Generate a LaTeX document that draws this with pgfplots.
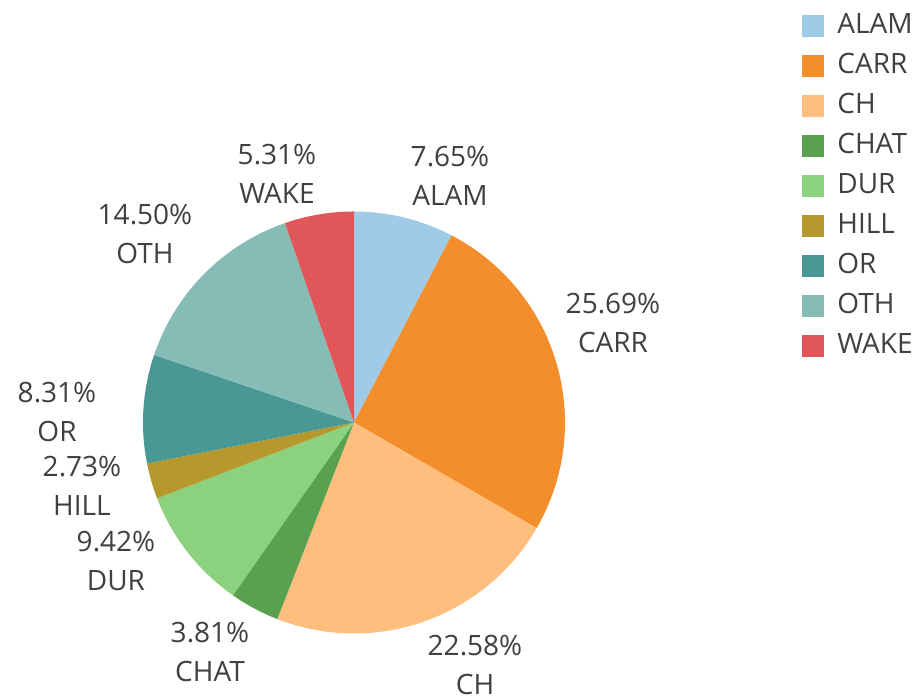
\documentclass[border=0pt]{standalone}
\usepackage{pgfplots}
\pgfplotsset{compat=1.18}
\usepackage{fontspec}
\setmainfont{Open Sans}
\definecolor{cALAM}{HTML}{A0CBE8}
\definecolor{cCARR}{HTML}{F28E2B}
\definecolor{cCH}{HTML}{FFBE7D}
\definecolor{cCHAT}{HTML}{59A14F}
\definecolor{cDUR}{HTML}{8CD17D}
\definecolor{cHILL}{HTML}{B6992D}
\definecolor{cOR}{HTML}{499894}
\definecolor{cOTH}{HTML}{86BCB6}
\definecolor{cWAKE}{HTML}{E15759}
\definecolor{txt}{HTML}{404040}
% #1 = cumulative share before this slice (%), #2 = share (%), #3 = colour, #4 = name
\newcommand{\slice}[4]{%
  \addplot[fill=#3, draw=none, samples at={-1,0,1,...,100,101}, variable=\t]
   ({354+211*ifthenelse(\t<0,0,ifthenelse(\t>100,0,1))*cos(90-3.6*(#1+#2*min(max(\t,0),100)/100))},
    {277.5+211*ifthenelse(\t<0,0,ifthenelse(\t>100,0,1))*sin(90-3.6*(#1+#2*min(max(\t,0),100)/100))});
  \addlegendentry{#4}%
}
\begin{document}
\begin{tikzpicture}[lab/.style={align=center, inner sep=0pt, text=txt, font=\fontsize{14}{19.5}\selectfont}]
\begin{axis}[
  width=461pt, height=350pt, scale only axis,
  xmin=0, xmax=922, ymin=0, ymax=700,
  hide axis, clip=false,
  legend image code/.code={\fill[#1] (0pt,-5.5pt) rectangle (11pt,5.5pt);},
  legend style={at={(axis cs:796,691)}, anchor=north west, draw=none, fill=none,
    font=\fontsize{14}{17}\selectfont, text=txt,
    nodes={inner sep=0pt, text height=10pt, text depth=3pt},
    row sep=7pt, column sep=6.5pt},
  legend cell align=left,
]
\slice{0}{7.65}{cALAM}{ALAM}
\slice{7.65}{25.69}{cCARR}{CARR}
\slice{33.34}{22.58}{cCH}{CH}
\slice{55.92}{3.81}{cCHAT}{CHAT}
\slice{59.73}{9.42}{cDUR}{DUR}
\slice{69.15}{2.73}{cHILL}{HILL}
\slice{71.88}{8.31}{cOR}{OR}
\slice{80.19}{14.50}{cOTH}{OTH}
\slice{94.69}{5.31}{cWAKE}{WAKE}
\node[lab] at (axis cs:450,524) {7.65\%\\ALAM};
\node[lab] at (axis cs:277,526.5) {5.31\%\\WAKE};
\node[lab] at (axis cs:145,466) {14.50\%\\OTH};
\node[lab] at (axis cs:613,377) {25.69\%\\CARR};
\node[lab] at (axis cs:57,288) {8.31\%\\OR};
\node[lab] at (axis cs:82,214) {2.73\%\\HILL};
\node[lab] at (axis cs:116,139) {9.42\%\\DUR};
\node[lab] at (axis cs:210,48) {3.81\%\\CHAT};
\node[lab] at (axis cs:475,35) {22.58\%\\CH};
\end{axis}
\pgfresetboundingbox
\path[use as bounding box] (current axis.south west) rectangle (current axis.north east);
\end{tikzpicture}
\end{document}
